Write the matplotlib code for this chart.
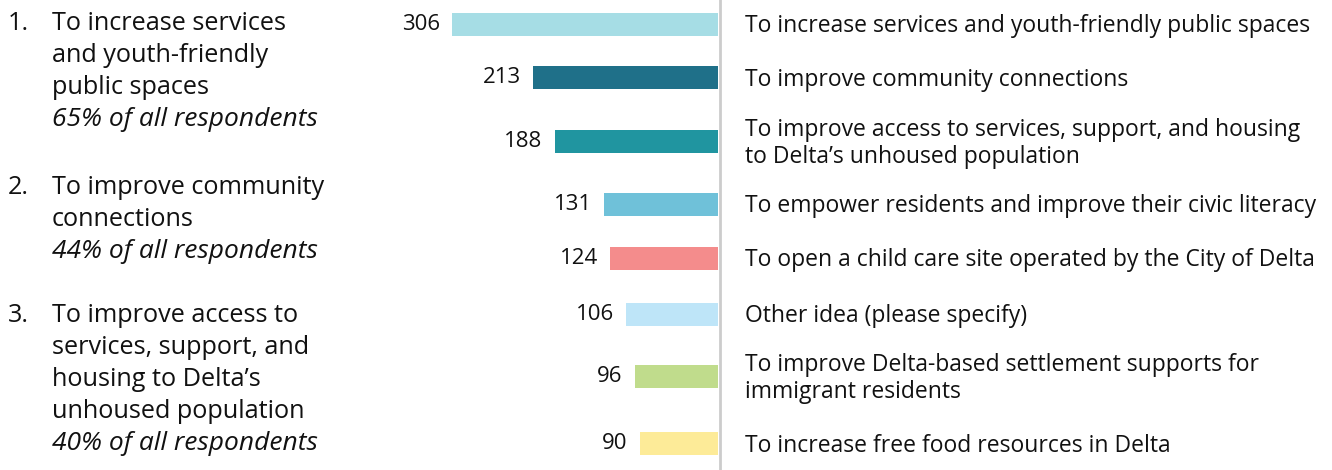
import matplotlib.pyplot as plt
import matplotlib.transforms as mtransforms

plt.rcParams["font.family"] = ["Open Sans", "DejaVu Sans"]

# data
labels = [
    "To increase services and youth-friendly public spaces",
    "To improve community connections",
    "To improve access to services, support, and housing\nto Delta\u2019s unhoused population",
    "To empower residents and improve their civic literacy",
    "To open a child care site operated by the City of Delta",
    "Other idea (please specify)",
    "To improve Delta-based settlement supports for\nimmigrant residents",
    "To increase free food resources in Delta",
]
counts = [306, 213, 188, 131, 124, 106, 96, 90]
colors = ["#A6DDE5", "#1F7089", "#2095A0", "#6FC1D9",
          "#F48C8C", "#BEE5F8", "#C0DC8C", "#FDEB98"]

top3 = [
    ("1.", ["To increase services", "and youth-friendly", "public spaces"], "65% of all respondents"),
    ("2.", ["To improve community", "connections"], "44% of all respondents"),
    ("3.", ["To improve access to", "services, support, and", "housing to Delta\u2019s",
            "unhoused population"], "40% of all respondents"),
]

# layout (pixels from top)
W, H = 1332, 470
row_y = [24, 77.5, 141.5, 204.5, 258.5, 314.5, 376.5, 443.5]
bar_right = 718
px_per_unit = 266 / 306

fig = plt.figure(figsize=(W / 100, H / 100), dpi=100)
ax = fig.add_axes([0, 0, bar_right / W, 1])
ax.barh(row_y, counts, height=23, color=colors)
ax.set_xlim(bar_right / px_per_unit, 0)
ax.set_ylim(H, 0)
ax.axis("off")

for y, c in zip(row_y, counts):
    ax.text(c + 12 / px_per_unit, y, str(c), ha="right", va="center", fontsize=16, color="#111111")

# grey divider
fig.add_artist(plt.Line2D([(bar_right + 1.5) / W] * 2, [0, 1], color="#CCCCCC", lw=2,
                          transform=fig.transFigure))

# right labels
trans = mtransforms.blended_transform_factory(fig.transFigure, ax.transData)
for y, lab in zip(row_y, labels):
    ax.text(745 / W, y + 2, lab, transform=trans, ha="left", va="center",
            fontsize=16.5, color="#111111", linespacing=1.2, clip_on=False)

# left summary of the top three
starts = [24, 188, 316]
step = 32
for (num, lines, pct), y0 in zip(top3, starts):
    fig.text(8 / W, 1 - y0 / H, num, ha="left", va="center", fontsize=18.2, color="#111111")
    for i, ln in enumerate(lines):
        fig.text(52 / W, 1 - (y0 + i * step) / H, ln, ha="left", va="center", fontsize=18.2,
                 color="#111111")
    fig.text(52 / W, 1 - (y0 + len(lines) * step) / H, pct, ha="left", va="center",
             fontsize=19, style="italic", color="#111111")

fig.savefig("out.png", dpi=100)
